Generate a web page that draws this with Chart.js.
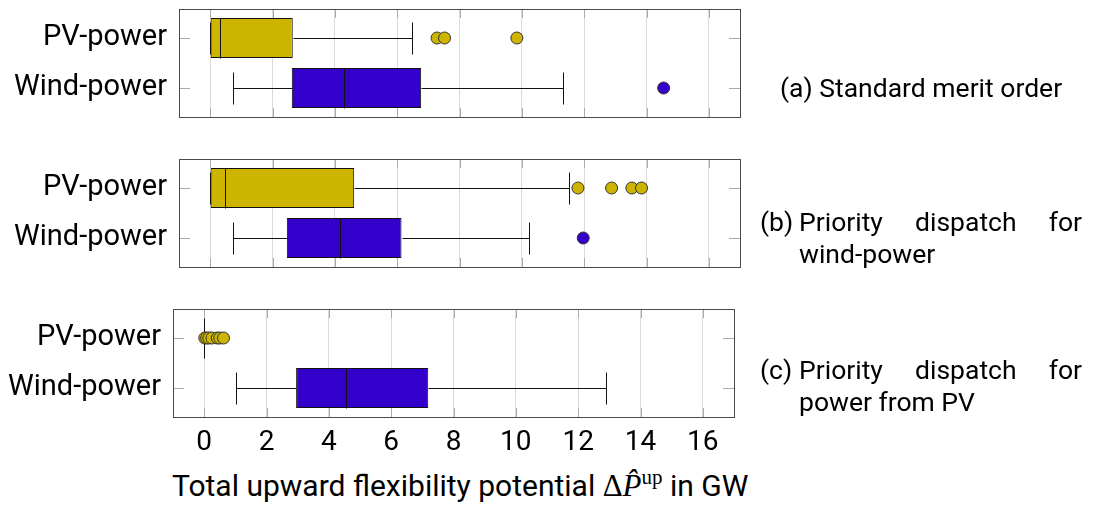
<!DOCTYPE html>
<html>
<head>
<meta charset="utf-8">
<script src="https://cdn.jsdelivr.net/npm/chart.js@4.4.0/dist/chart.umd.min.js"></script>
<style>
body { margin: 0; background: #fff; }
#wrap { position: relative; width: 1095px; height: 505px; font-family: Roboto, sans-serif; color: #000; overflow: hidden; }
canvas { position: absolute; left: 0; }
.cap { position: absolute; font-size: 26.5px; line-height: 32px; display: flex; }
.cap .lbl { width: 39px; }
.cap .txt { width: 283px; }
.cap .just { display: flex; justify-content: space-between; }
#xtitle { position: absolute; left: 172px; top: 468px; font-size: 30px; line-height: 36px; white-space: nowrap; }
#xtitle .m { font-family: "Liberation Serif", serif; font-size: 31px; }
#xtitle sup { font-size: 21px; vertical-align: 12px; line-height: 0; }
</style>
</head>
<body>
<div id="wrap">
  <canvas id="chartA" width="1095" height="130" style="top:0px"></canvas>
  <canvas id="chartB" width="1095" height="130" style="top:150px"></canvas>
  <canvas id="chartC" width="1095" height="160" style="top:300px"></canvas>

  <div class="cap" style="left:780px; top:72px;">(a) Standard merit order</div>
  <div class="cap" style="left:760px; top:206px;">
    <span class="lbl">(b)</span>
    <div class="txt"><div class="just"><span>Priority</span><span>dispatch</span><span>for</span></div><div>wind-power</div></div>
  </div>
  <div class="cap" style="left:760px; top:354px;">
    <span class="lbl">(c)</span>
    <div class="txt"><div class="just"><span>Priority</span><span>dispatch</span><span>for</span></div><div>power from PV</div></div>
  </div>

  <div id="xtitle">Total upward flexibility potential <span class="m">Δ<i>P̂</i><sup>up</sup></span> in GW</div>
</div>

<script>
// categories and x ticks
var categories = ['PV-power', 'Wind-power'];
var xTicks = [0, 2, 4, 6, 8, 10, 12, 14, 16];

// box stats: [lower whisker, q1, median, q3, upper whisker] in GW
// (a) standard merit order
var pvBoxA = [0, 0, 0.33, 2.65, 6.47];
var windBoxA = [0.73, 2.62, 4.28, 6.77, 11.33];
var pvOutA = [7.28, 7.52, 9.84];
var windOutA = [14.55];
// (b) priority dispatch for wind-power
var pvBoxB = [0, 0, 0.49, 4.62, 11.5];
var windBoxB = [0.73, 2.46, 4.15, 6.14, 10.23];
var pvOutB = [11.8, 12.88, 13.53, 13.84];
var windOutB = [11.97];
// (c) priority dispatch for power from PV
var pvBoxC = [0, 0, 0, 0, 0];
var windBoxC = [1.02, 2.95, 4.54, 7.19, 12.9];
var pvOutC = [0.02, 0.08, 0.15, 0.25, 0.42, 0.5, 0.62];
var windOutC = [];

var pvColor = '#ccb400';
var windColor = '#3300cc';

// whiskers, caps and medians, drawn right after the boxes
var boxPlugin = {
  id: 'boxes',
  afterDatasetDraw: function(chart, args) {
    if (args.meta.type !== 'bar') return;
    var ds = chart.data.datasets[args.index];
    var xs = chart.scales.x, ys = chart.scales.y;
    var ctx = chart.ctx;
    ctx.save();
    ctx.strokeStyle = '#111111';
    ctx.lineWidth = 1;
    args.meta.data.forEach(function(bar, i) {
      var s = ds.stats[i];
      var yc = Math.round(ys.getPixelForValue(i)) + 0.5;
      var h = bar.height;
      var px = function(v) { return Math.round(xs.getPixelForValue(v)) + 0.5; };
      ctx.beginPath();
      // whiskers
      ctx.moveTo(px(s[0]), yc); ctx.lineTo(px(s[1]), yc);
      ctx.moveTo(px(s[3]), yc); ctx.lineTo(px(s[4]), yc);
      // caps
      ctx.moveTo(px(s[0]), yc - h * 0.4); ctx.lineTo(px(s[0]), yc + h * 0.4);
      ctx.moveTo(px(s[4]), yc - h * 0.4); ctx.lineTo(px(s[4]), yc + h * 0.4);
      // median
      ctx.moveTo(px(s[2]), yc - h / 2); ctx.lineTo(px(s[2]), yc + h / 2);
      ctx.stroke();
    });
    ctx.restore();
  }
};

// axis frame with inner tick marks
var framePlugin = {
  id: 'frame',
  afterDraw: function(chart) {
    var a = chart.chartArea;
    var ctx = chart.ctx;
    var xs = chart.scales.x, ys = chart.scales.y;
    ctx.save();
    ctx.lineWidth = 1;
    ctx.strokeStyle = '#aaaaaa';
    ctx.beginPath();
    xs.ticks.forEach(function(t) {
      var x = Math.round(xs.getPixelForValue(t.value)) + 0.5;
      ctx.moveTo(x, a.top); ctx.lineTo(x, a.top + 9);
      ctx.moveTo(x, a.bottom); ctx.lineTo(x, a.bottom - 9);
    });
    ys.ticks.forEach(function(t) {
      var y = Math.round(ys.getPixelForValue(t.value)) + 0.5;
      ctx.moveTo(a.left, y); ctx.lineTo(a.left + 11, y);
      ctx.moveTo(a.right, y); ctx.lineTo(a.right - 11, y);
    });
    ctx.stroke();
    ctx.strokeStyle = '#4a4a4a';
    ctx.strokeRect(Math.round(a.left) + 0.5, Math.round(a.top) + 0.5,
                   Math.round(a.right - a.left), Math.round(a.bottom - a.top));
    ctx.restore();
  }
};

function makePanel(id, pvBox, windBox, pvOut, windOut, opts) {
  var boxes = [pvBox, windBox];
  return new Chart(document.getElementById(id), {
    type: 'bar',
    data: {
      datasets: [
        {
          type: 'bar',
          order: 1,
          data: boxes.map(function(b, i) { return { x: [b[1], b[3]], y: i }; }),
          stats: boxes,
          backgroundColor: [pvColor, windColor],
          borderColor: '#111111',
          borderWidth: 1,
          borderSkipped: false,
          barPercentage: 0.8,
          categoryPercentage: 1
        },
        {
          type: 'scatter',
          order: 0,
          data: pvOut.map(function(v) { return { x: v, y: 0 }; }),
          backgroundColor: pvColor,
          borderColor: '#333333',
          borderWidth: 1,
          pointRadius: 6
        },
        {
          type: 'scatter',
          order: 0,
          data: windOut.map(function(v) { return { x: v, y: 1 }; }),
          backgroundColor: windColor,
          borderColor: '#333333',
          borderWidth: 1,
          pointRadius: 6
        }
      ]
    },
    options: {
      indexAxis: 'y',
      responsive: false,
      animation: false,
      layout: { padding: { left: 0, right: opts.right, top: 9, bottom: opts.bottom } },
      plugins: { legend: { display: false }, tooltip: { enabled: false } },
      scales: {
        x: {
          type: 'linear',
          min: -1,
          max: 17,
          afterBuildTicks: function(s) { s.ticks = xTicks.map(function(v) { return { value: v }; }); },
          grid: { color: '#dadada', drawTicks: false },
          border: { display: false },
          ticks: { display: opts.showX, color: '#000', padding: 9, font: { family: 'Roboto', size: 28 } },
          afterFit: function(s) { s.height = opts.xHeight; }
        },
        y: {
          type: 'linear',
          min: -0.58,
          max: 1.58,
          bounds: 'data',
          offset: false,
          reverse: true,
          afterBuildTicks: function(s) { s.ticks = [{ value: 0 }, { value: 1 }]; },
          // transparent outer tick marks only give the label gap
          grid: { offset: false, drawOnChartArea: false, drawTicks: true, tickLength: 12, tickColor: 'rgba(0,0,0,0)' },
          border: { display: false },
          ticks: {
            color: '#000',
            padding: 0,
            font: { family: 'Roboto', size: 29, lineHeight: 0.6 },
            callback: function(v) { return categories[v]; }
          },
          afterFit: function(s) { s.width = opts.left; }
        }
      }
    },
    plugins: [boxPlugin, framePlugin]
  });
}

makePanel('chartA', pvBoxA, windBoxA, pvOutA, windOutA, { left: 179, right: 355, bottom: 13, xHeight: 0, showX: false });
makePanel('chartB', pvBoxB, windBoxB, pvOutB, windOutB, { left: 179, right: 355, bottom: 13, xHeight: 0, showX: false });
makePanel('chartC', pvBoxC, windBoxC, pvOutC, windOutC, { left: 173, right: 361, bottom: 0, xHeight: 43, showX: true });
</script>
</body>
</html>
